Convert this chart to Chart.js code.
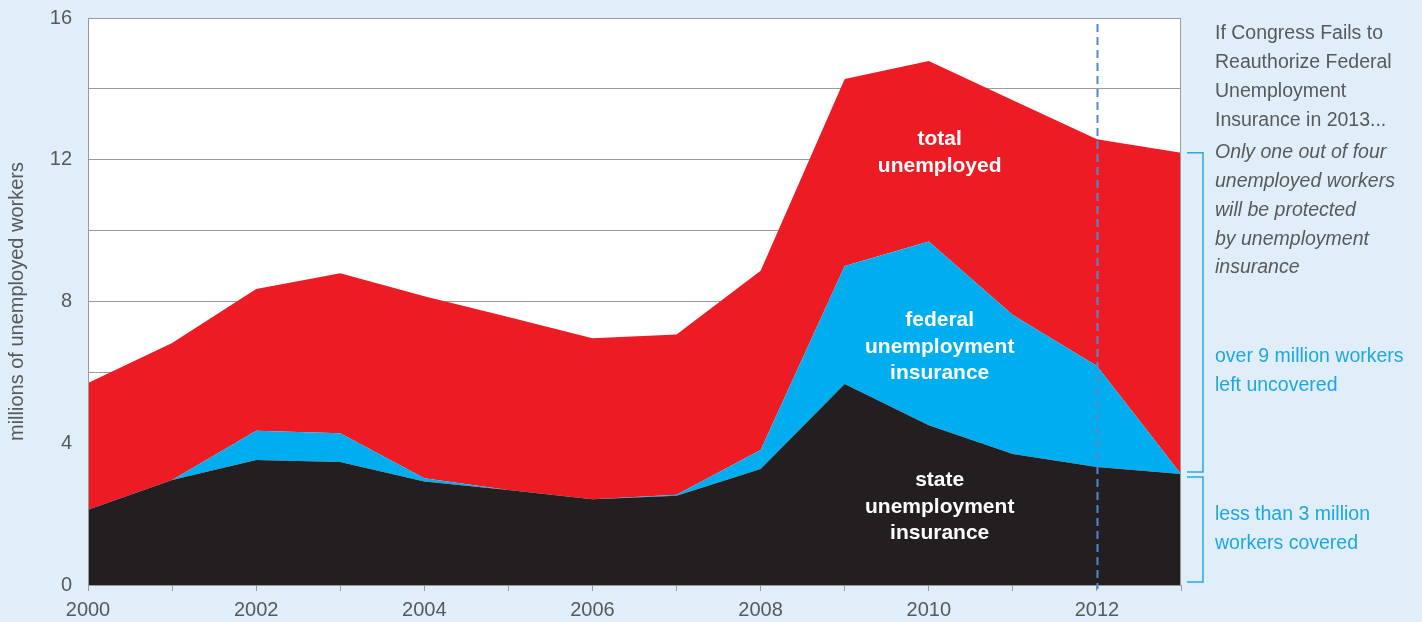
<!DOCTYPE html>
<html lang="en">
<head>
  <meta charset="UTF-8">
  <title>Unemployment insurance coverage</title>
  <script src="https://cdn.jsdelivr.net/npm/chart.js"></script>
  <style>
    body { margin: 0; background: #dfeef9; }
    #wrap { width: 1422px; height: 622px; }
  </style>
</head>
<body>

  <div id="wrap">
    <canvas id="uiChart"></canvas>
  </div>

  <script>
    // millions of workers
    const years = [2000, 2001, 2002, 2003, 2004, 2005, 2006, 2007, 2008, 2009, 2010, 2011, 2012, 2013];
    const totalUnemployed = [5.70, 6.83, 8.35, 8.80, 8.15, 7.56, 6.96, 7.07, 8.87, 14.28, 14.79, 13.68, 12.58, 12.20];
    const stateUI = [2.12, 2.96, 3.53, 3.47, 2.92, 2.68, 2.42, 2.52, 3.27, 5.67, 4.51, 3.70, 3.33, 3.13];
    const federalUI = [0, 0, 0.82, 0.81, 0.09, 0, 0, 0.03, 0.54, 3.33, 5.18, 3.92, 2.85, 0];
    const yTickLabels = [0, 4, 8, 12, 16];
    const xTickLabels = [2000, 2002, 2004, 2006, 2008, 2010, 2012];

    const GREY = '#58595b';
    const BLUE_TEXT = '#1fa6e0';
    const FONT = '"Liberation Sans", Arial, sans-serif';

    // stacked tops for fill-between
    const pts = arr => years.map((yr, i) => ({ x: yr, y: arr[i] }));
    const stateTop = stateUI;
    const federalTop = stateUI.map((v, i) => v + federalUI[i]);

    // labels drawn inside the areas (x in years, y in millions)
    const areaLabels = [
      { lines: ['total', 'unemployed'], x: 2010.13, y: 12.2 },
      { lines: ['federal', 'unemployment', 'insurance'], x: 2010.13, y: 6.72 },
      { lines: ['state', 'unemployment', 'insurance'], x: 2010.13, y: 2.2 }
    ];

    const sideText = [
      { text: 'If Congress Fails to', y: 34, style: 'normal', color: GREY },
      { text: 'Reauthorize Federal', y: 63, style: 'normal', color: GREY },
      { text: 'Unemployment', y: 92, style: 'normal', color: GREY },
      { text: 'Insurance in 2013...', y: 121, style: 'normal', color: GREY },
      { text: 'Only one out of four', y: 153, style: 'italic', color: GREY },
      { text: 'unemployed workers', y: 182, style: 'italic', color: GREY },
      { text: 'will be protected', y: 211, style: 'italic', color: GREY },
      { text: 'by unemployment', y: 240, style: 'italic', color: GREY },
      { text: 'insurance', y: 268, style: 'italic', color: GREY },
      { text: 'over 9 million workers', y: 357, style: 'normal', color: BLUE_TEXT },
      { text: 'left uncovered', y: 386, style: 'normal', color: BLUE_TEXT },
      { text: 'less than 3 million', y: 515, style: 'normal', color: BLUE_TEXT },
      { text: 'workers covered', y: 544, style: 'normal', color: BLUE_TEXT }
    ];

    const decor = {
      id: 'decor',
      beforeDraw(chart) {
        const { ctx, chartArea: a } = chart;
        ctx.save();
        ctx.fillStyle = '#dfeef9';
        ctx.fillRect(0, 0, chart.width, chart.height);
        ctx.fillStyle = '#ffffff';
        ctx.fillRect(a.left, a.top, a.right - a.left, a.bottom - a.top);
        ctx.restore();
      },
      afterDatasetsDraw(chart) {
        const { ctx, chartArea: a, scales: { x, y } } = chart;
        ctx.save();

        // frame on top of the fills
        ctx.strokeStyle = '#9a9a9a';
        ctx.lineWidth = 1;
        ctx.beginPath();
        ctx.moveTo(a.left + 0.5, a.top);
        ctx.lineTo(a.left + 0.5, a.bottom + 0.5);
        ctx.lineTo(a.right - 0.5, a.bottom + 0.5);
        ctx.lineTo(a.right - 0.5, a.top);
        ctx.stroke();

        // dashed 2012 marker
        const px = Math.round(x.getPixelForValue(2012)) + 0.5;
        ctx.strokeStyle = '#4f8ad0';
        ctx.lineWidth = 2;
        ctx.setLineDash([8, 5]);
        ctx.beginPath();
        ctx.moveTo(px, a.top + 6);
        ctx.lineTo(px, a.bottom + 4);
        ctx.stroke();
        ctx.setLineDash([]);

        // area labels
        ctx.fillStyle = '#ffffff';
        ctx.font = 'bold 21px ' + FONT;
        ctx.textAlign = 'center';
        ctx.textBaseline = 'middle';
        areaLabels.forEach(lbl => {
          const cx = x.getPixelForValue(lbl.x);
          const cy = y.getPixelForValue(lbl.y);
          const lh = 26.5;
          const start = cy - (lbl.lines.length - 1) * lh / 2;
          lbl.lines.forEach((t, i) => ctx.fillText(t, cx, start + i * lh));
        });

        // brackets to the right of 2013
        const last = years.length - 1;
        const yTop = y.getPixelForValue(totalUnemployed[last]);
        const yMid = y.getPixelForValue(stateUI[last]);
        const yBot = y.getPixelForValue(0);
        ctx.strokeStyle = '#29a9e1';
        ctx.lineWidth = 1.5;
        const bx0 = a.right + 6, bx1 = a.right + 22;
        [[yTop, yMid - 2], [yMid + 3, yBot - 3]].forEach(([t, b]) => {
          ctx.beginPath();
          ctx.moveTo(bx0, t);
          ctx.lineTo(bx1, t);
          ctx.lineTo(bx1, b);
          ctx.lineTo(bx0, b);
          ctx.stroke();
        });

        // side notes
        ctx.textAlign = 'left';
        sideText.forEach(s => {
          ctx.fillStyle = s.color;
          ctx.font = s.style + ' 19.5px ' + FONT;
          ctx.fillText(s.text, 1215, s.y);
        });
        ctx.restore();
      }
    };

    const config = {
      type: 'line',
      data: {
        datasets: [
          {
            label: 'state unemployment insurance',
            data: pts(stateTop),
            backgroundColor: '#231f20',
            borderWidth: 0,
            pointRadius: 0,
            fill: 'origin'
          },
          {
            label: 'federal unemployment insurance',
            data: pts(federalTop),
            backgroundColor: '#00aeef',
            borderWidth: 0,
            pointRadius: 0,
            fill: '-1'
          },
          {
            label: 'total unemployed',
            data: pts(totalUnemployed),
            backgroundColor: '#ed1c24',
            borderWidth: 0,
            pointRadius: 0,
            fill: '-1'
          }
        ]
      },
      options: {
        responsive: true,
        maintainAspectRatio: false,
        animation: false,
        layout: { padding: { top: 18, right: 241, left: 0, bottom: 0 } },
        plugins: {
          legend: { display: false },
          tooltip: { enabled: false }
        },
        elements: { line: { tension: 0 } },
        scales: {
          x: {
            type: 'linear',
            min: 2000,
            max: 2013,
            afterFit: s => { s.height = 37; s.paddingLeft = 0; s.paddingRight = 0; },
            ticks: {
              stepSize: 1,
              autoSkip: false,
              maxRotation: 0,
              padding: 7,
              color: GREY,
              font: { family: FONT, size: 20 },
              callback: v => xTickLabels.includes(v) ? String(v) : ''
            },
            grid: { drawOnChartArea: false, drawTicks: true, tickLength: 6, color: '#9a9a9a' },
            border: { color: '#9a9a9a' }
          },
          y: {
            min: 0,
            max: 16,
            afterFit: s => { s.width = 88; s.paddingTop = 0; s.paddingBottom = 0; },
            ticks: {
              stepSize: 2,
              padding: 16,
              color: GREY,
              font: { family: FONT, size: 20 },
              callback: v => yTickLabels.includes(v) ? String(v) : ''
            },
            grid: { color: '#9a9a9a', drawTicks: false },
            border: { color: '#9a9a9a' },
            title: {
              display: true,
              text: 'millions of unemployed workers',
              color: GREY,
              font: { family: FONT, size: 20 },
              padding: { top: 5, bottom: 0 }
            }
          }
        }
      },
      plugins: [decor]
    };

    const ctx = document.getElementById('uiChart').getContext('2d');
    new Chart(ctx, config);
  </script>

</body>
</html>
